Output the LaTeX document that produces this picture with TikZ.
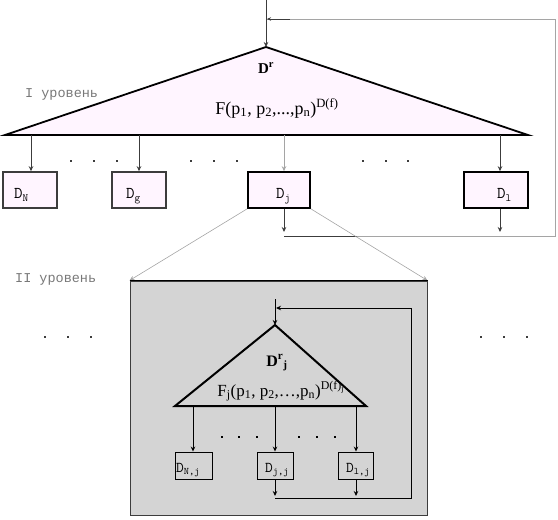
\documentclass[tikz,border=0pt]{standalone}
\usepackage{fontspec}
\setmainfont{Liberation Serif}
\newfontfamily\cour{Liberation Mono}
\usetikzlibrary{arrows.meta}
\definecolor{pinkfill}{RGB}{255,245,255}
\definecolor{boxgray}{RGB}{212,212,212}
\definecolor{lgray}{RGB}{165,165,165}
\definecolor{dgray}{RGB}{60,60,60}
\definecolor{lblgray}{RGB}{120,120,120}
\newcommand\lsub[1]{\raisebox{-0.45ex}{\fontsize{11}{11}\selectfont #1}}
\newcommand\ssub[1]{\raisebox{-0.45ex}{\fontsize{10}{10}\selectfont #1}}
\begin{document}
\begin{tikzpicture}[x=1pt,y=-1pt,
  arr/.style={-{Stealth[length=5pt,width=4.5pt]}},
  conn/.style={draw=dgray, line width=0.8pt},
  lconn/.style={draw=lgray, line width=0.8pt},
  tri/.style={draw=black, line width=1.8pt, line join=miter},
  topbox/.style={draw=black, line width=1.6pt, fill=pinkfill, inner sep=0pt, minimum height=36pt},
  topboxg/.style={topbox, draw=dgray},
  inbox/.style={draw=black, line width=0.9pt, inner sep=0pt, minimum height=27pt},
  lbl/.style={font=\ttfamily\fontsize{16.5}{16.5}\selectfont, anchor=base west, inner sep=0pt},
  ilbl/.style={font=\ttfamily\fontsize{15}{15}\selectfont, anchor=base west, inner sep=0pt},
  level/.style={font=\cour\fontsize{13.5}{13.5}\selectfont, text=lblgray, anchor=base west, inner sep=0pt},
  formula/.style={font=\fontsize{18}{18}\selectfont, anchor=base, inner sep=0pt},
  dot/.style={fill=dgray}
]
\useasboundingbox (0,0) rectangle (558,520);

% ---------- Level I ----------
\coordinate (top) at (266,0);
\coordinate (apex) at (266,47);
\coordinate (bl) at (5,135);
\coordinate (br) at (528,135);
\path[tri, fill=pinkfill] (apex) -- (br) -- (bl) -- cycle;

\node[formula, font=\bfseries\fontsize{15}{15}\selectfont] (Dr) at (266,73) {D\textsuperscript{r}};
\node[formula] (F) at (277,114) {F(p\textsubscript{1}, p\textsubscript{2},...,p\textsubscript{n})\textsuperscript{D(f)}};
\node[level] (lev1) at (25,97) {I уровень};

% boxes
\node[topboxg, minimum width=54pt] (DN) at (30,190) {};
\node[topboxg, minimum width=54pt] (Dg) at (139,190) {};
\node[topbox, minimum width=62pt] (Dj) at (279,190) {};
\node[topbox, minimum width=64pt] (D1) at (496,190) {};
\node[lbl] (tDN) at (14,198) {D\lsub{N}};
\node[lbl] (tDg) at (126,198) {D\lsub{g}};
\node[lbl] (tDj) at (276,198) {D\lsub{j}};
\node[lbl] (tD1) at (497,198) {D\lsub{l}};

% arrows from base
\coordinate (bN) at (31,135);
\coordinate (bg) at (139,135);
\coordinate (bj) at (284,135);
\coordinate (b1) at (500,135);
\draw[conn, arr] (bN) -- (bN |- DN.north);
\draw[conn, arr] (bg) -- (bg |- Dg.north);
\draw[lconn, arr] (bj) -- (bj |- Dj.north);
\draw[conn, arr] (b1) -- (b1 |- D1.north);

% dots level I
\foreach \x in {71,94,117,191,214,237,363,386,408}
  \fill[dot] (\x-1,160) rectangle ++(2.2,2.2);

% outputs and feedback
\coordinate (jr) at (284,232);
\coordinate (r1) at (500,232);
\coordinate (fbs) at (284,236);
\coordinate (fbc1) at (555,236);
\coordinate (fbc2) at (555,19);
\coordinate (fbe) at (267,19);
\draw[conn, arr] (Dj.south -| jr) -- (jr);
\draw[conn, arr] (D1.south -| r1) -- (r1);
\draw[lconn] (fbs) -- (fbc1) -- (fbc2) -- (fbe);
\draw[conn] (fbs) -- (357,236);
\draw[conn, -{Stealth[length=4pt,width=3.5pt]}] (fbc2 -| 290,0) -- (fbe);
\draw[conn, arr] (top) -- (apex);

% ---------- Level II ----------
\node[level] (lev2) at (15,282) {II уровень};
\foreach \x in {45,68,91,481,504,527}
  \fill[dot] (\x-1,336) rectangle ++(2.2,2.2);

\node[draw=dgray, line width=1pt, fill=boxgray, inner sep=0pt, minimum width=297pt, minimum height=234pt] (G) at (278.5,398) {};
\draw[lconn, line width=0.6pt, arr] (Dj.south west) -- (G.north west);
\draw[lconn, line width=0.6pt, arr] (Dj.south east) -- (G.north east);
\draw[black, line width=1pt] (G.north west) -- (G.north east);

\coordinate (itop) at (275,299);
\coordinate (iapex) at (275,325);
\coordinate (ibl) at (175,406);
\coordinate (ibr) at (366,406);
\path[tri, line width=2pt] (iapex) -- (ibr) -- (ibl) -- cycle;
\draw[black, line width=1pt, arr] (itop) -- (iapex);

\node[formula, font=\bfseries\fontsize{16}{16}\selectfont] (Drj) at (277,366) {D\textsuperscript{r}\textsubscript{j}};
\node[formula, font=\fontsize{17}{17}\selectfont] (Fj) at (281,396) {F\textsubscript{j}(p\textsubscript{1}, p\textsubscript{2},…,p\textsubscript{n})\textsuperscript{D(f)\textsubscript{j}}};

\node[inbox, minimum width=37pt] (DNj) at (193.5,465.5) {};
\node[inbox, minimum width=36pt] (Djj) at (275,465.5) {};
\node[inbox, minimum width=35pt] (D1j) at (355.5,465.5) {};
\node[ilbl] (tDNj) at (176,472) {D\ssub{N,j}};
\node[ilbl] (tDjj) at (265,472) {D\ssub{j,j}};
\node[ilbl] (tD1j) at (346,472) {D\ssub{l,j}};

\coordinate (iN) at (193,406);
\coordinate (ij) at (275,406);
\coordinate (i1) at (356,406);
\draw[black, line width=1pt, arr] (iN) -- (iN |- DNj.north);
\draw[black, line width=1pt, arr] (ij) -- (ij |- Djj.north);
\draw[black, line width=1pt, arr] (i1) -- (i1 |- D1j.north);

\foreach \x in {222,239,257,299,317,335}
  \fill[black] (\x-1,436) rectangle ++(2.2,2.2);

\coordinate (ijo) at (275,496);
\coordinate (i1o) at (356,496);
\coordinate (ifs) at (275,498);
\coordinate (ifc1) at (411,498);
\coordinate (ifc2) at (411,308);
\coordinate (ife) at (276,308);
\draw[black, line width=1pt, arr] (Djj.south -| ijo) -- (ijo);
\draw[black, line width=1pt, arr] (D1j.south -| i1o) -- (i1o);
\draw[black, line width=1pt, -{Stealth[length=5pt,width=4.5pt]}] (ifs) -- (ifc1) -- (ifc2) -- (ife);
\end{tikzpicture}
\end{document}
